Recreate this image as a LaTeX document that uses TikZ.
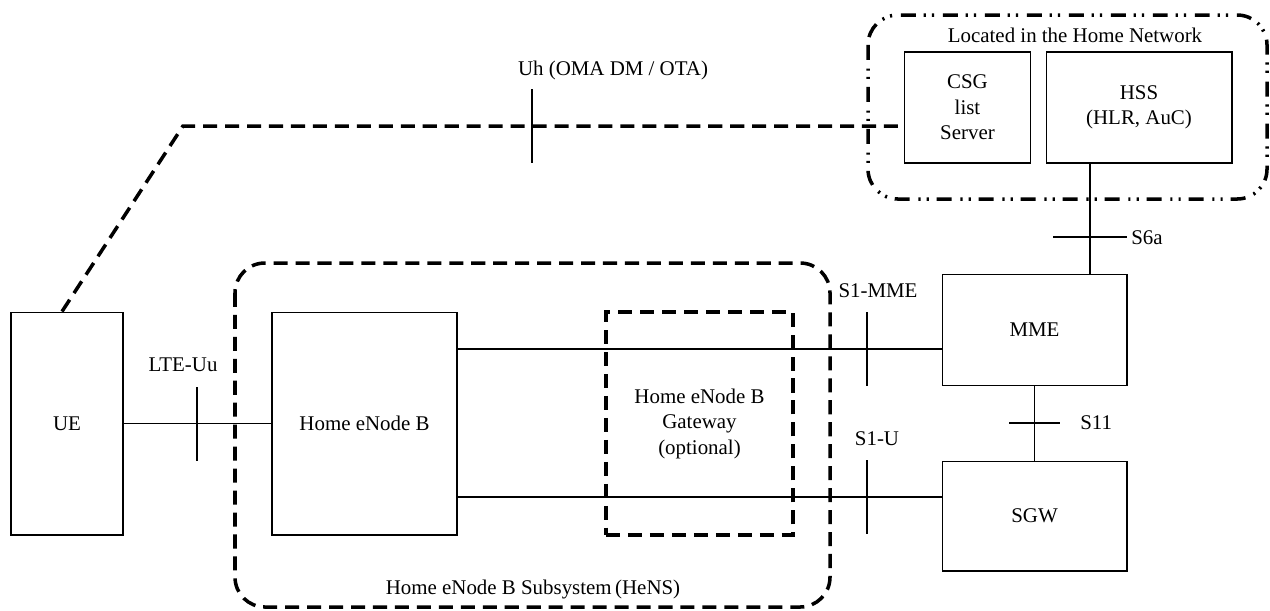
\documentclass[tikz,border=0pt]{standalone}
\usepackage{fontspec}
\setmainfont{Liberation Serif}
\usetikzlibrary{positioning, calc}

\begin{document}
\begin{tikzpicture}[x=0.02cm, y=-0.02cm, font=\fontsize{11.9}{14.5}\selectfont,
    netbox/.style={draw, line width=0.6pt, align=center, inner sep=0pt},
    ifline/.style={line width=0.6pt},
    iflabel/.style={inner sep=0pt},
    thickdash/.style={line width=2pt, dash pattern=on 8pt off 4.5pt},
    boundary/.style={thickdash, rounded corners=17pt},
    homebound/.style={line width=2pt, rounded corners=17pt, dash pattern=on 8.5pt off 5pt on 1.2pt off 3.5pt on 1.2pt off 4.5pt}]
    \useasboundingbox (0,0) rectangle (1270,610);

    \node[netbox, minimum width=2.24cm, minimum height=4.46cm] (ue) at (67,423.5) {UE};
    \node[netbox, minimum width=3.7cm, minimum height=4.46cm] (henb) at (364.5,423.5) {Home eNode B};
    \node[netbox, thickdash, minimum width=3.74cm, minimum height=4.46cm] (gw) at (699.5,423.5) {Home eNode B\\Gateway\\(optional)};
    \node[netbox, minimum width=3.7cm, minimum height=2.22cm] (mme) at (1034.5,330) {MME};
    \node[netbox, minimum width=3.7cm, minimum height=2.2cm] (sgw) at (1034.5,516) {SGW};
    \node[netbox, minimum width=2.52cm, minimum height=2.22cm] (csg) at (967.5,107.5) {CSG\\list\\Server};
    \node[netbox, minimum width=3.72cm, minimum height=2.22cm] (hss) at (1139,107.5) {HSS\\(HLR, AuC)};

    \draw[boundary] (235,263) rectangle (830,607);
    \node[iflabel] (hens) at (533,589) {Home eNode B Subsystem\,(HeNS)};
    \draw[homebound] (868,15) rectangle (1267,199);
    \node[iflabel] (homenet) at (1075,35) {Located in the Home Network};

    \draw[ifline] (ue) -- (henb);
    \draw[ifline] (henb.east |- 0,349) -- (mme.west |- 0,349);
    \draw[ifline] (henb.east |- 0,497) -- (sgw.west |- 0,497);
    \draw[ifline] (mme) -- (sgw);
    \draw[ifline] (hss.south -| 1090,0) -- (mme.north -| 1090,0);

    \coordinate (uhbend) at (183,126);
    \draw[thickdash] (ue.north -| 62,0) -- (uhbend) -- (csg.west |- uhbend);

    \coordinate (uh) at (532,126);
    \coordinate (lteuu) at (197,424);
    \coordinate (s1mme) at (867,349);
    \coordinate (s1u) at (867,497);
    \coordinate (s6a) at (1090,237);
    \coordinate (s11) at (1035,423);
    \draw[ifline] (uh) ++(0,-37) -- ++(0,74);
    \draw[ifline] (lteuu) ++(0,-37) -- ++(0,74);
    \draw[ifline] (s1mme) ++(0,-37) -- ++(0,74);
    \draw[ifline] (s1u) ++(0,-37) -- ++(0,74);
    \draw[ifline] (s6a) ++(-37,0) -- ++(74,0);
    \draw[ifline] (s11) ++(-26,0) -- ++(51,0);

    \node[iflabel] (uhlbl) at (613,70) {Uh (OMA DM / OTA)};
    \node[iflabel] (lteuulbl) at (183,365) {LTE-Uu};
    \node[iflabel] (s1mmelbl) at (878,291) {S1-MME};
    \node[iflabel] (s1ulbl) at (877,439) {S1-U};
    \node[iflabel, anchor=west] (s6albl) at (1131,238) {S6a};
    \node[iflabel, anchor=west] (s11lbl) at (1080,423) {S11};
\end{tikzpicture}
\end{document}
